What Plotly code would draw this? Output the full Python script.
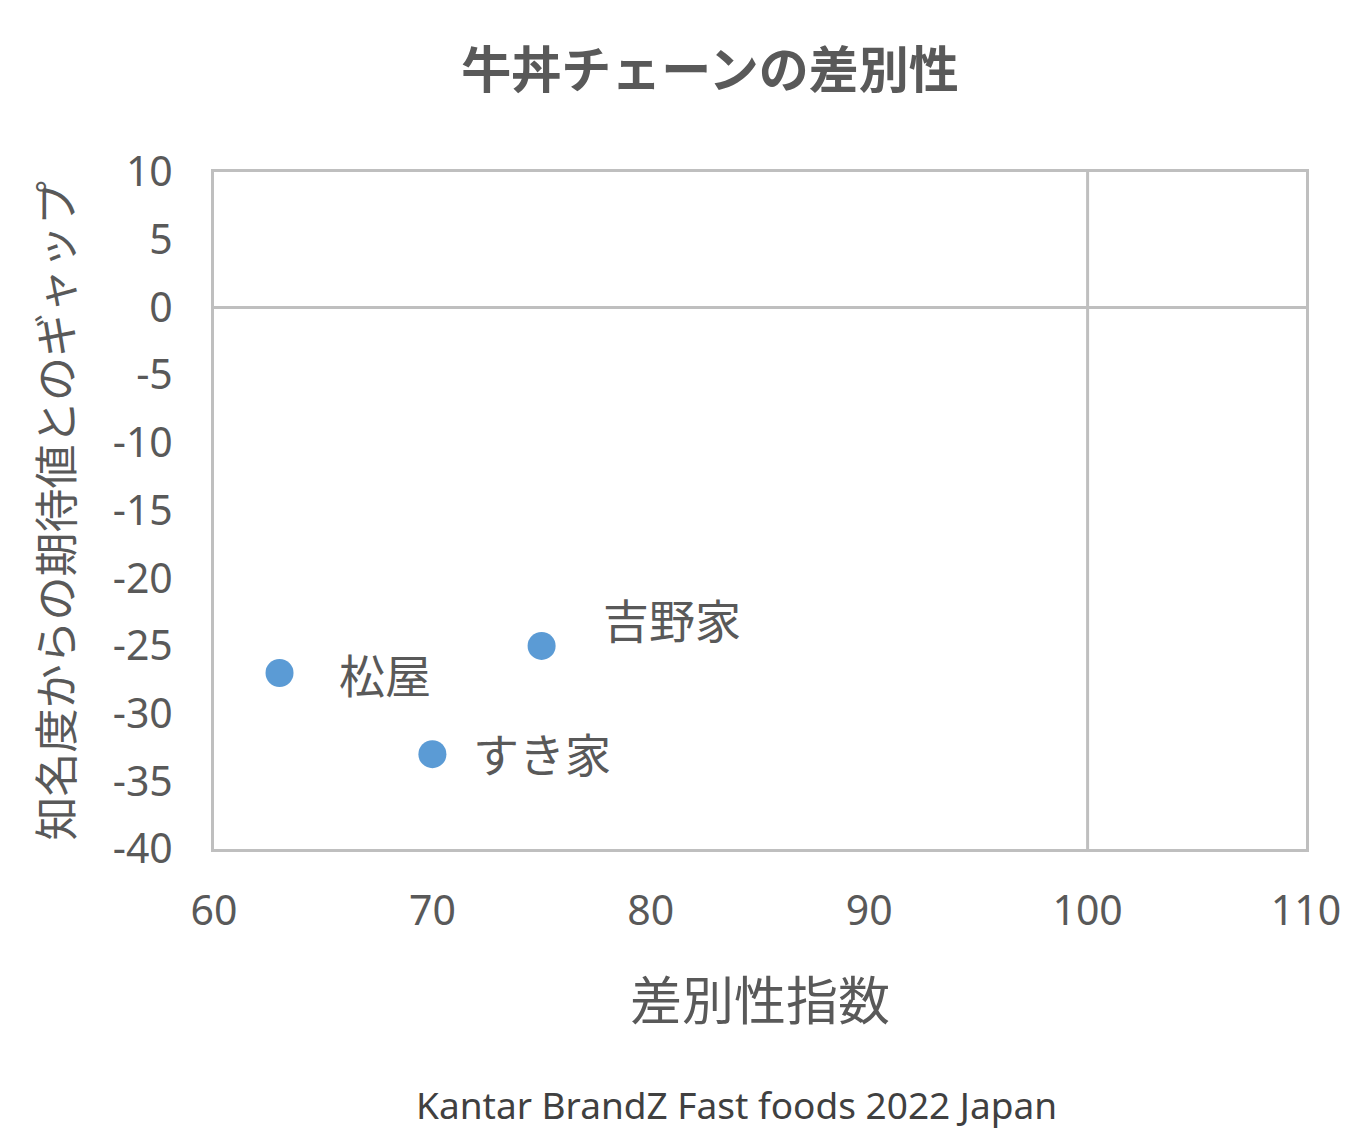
import plotly.graph_objects as go

brands = ["松屋", "吉野家", "すき家"]
diff_index = [63, 75, 70]
gap = [-27, -25, -33]
label_dx = [105, 130, 110]
label_dy = [0, 28, 2]

x_ticks = [60, 70, 80, 90, 100, 110]
y_ticks = [10, 5, 0, -5, -10, -15, -20, -25, -30, -35, -40]
y_ticktext = ["10", "5", "0", "-5", "-10", "-15", "-20", "-25", "-30", "-35", "-40"]
ref_x = 100
ref_y = 0

GRAY = "#595959"
LINE = "#BFBFBF"
BLUE = "#5B9BD5"
FONT = "Noto Sans, Noto Sans CJK JP"
CJK = "Noto Sans CJK JP"

fig = go.Figure()
fig.add_trace(go.Scatter(
    x=diff_index, y=gap, mode="markers",
    marker=dict(size=28, color=BLUE, line=dict(width=0)),
    showlegend=False, hoverinfo="skip"))

for b, xv, yv, dx, dy in zip(brands, diff_index, gap, label_dx, label_dy):
    fig.add_annotation(x=xv, y=yv, text=b, showarrow=False,
                       xshift=dx, yshift=dy, xanchor="center", yanchor="middle",
                       font=dict(family=CJK, size=46, color=GRAY))

fig.add_shape(type="line", xref="x", yref="paper", x0=ref_x, x1=ref_x, y0=0, y1=1,
              line=dict(color=LINE, width=3), layer="below")
fig.add_shape(type="line", xref="paper", yref="y", x0=0, x1=1, y0=ref_y, y1=ref_y,
              line=dict(color=LINE, width=3), layer="below")

L, T, PW, PH = 206, 164, 1092, 677
fig.update_layout(
    width=1372, height=1140,
    margin=dict(l=L, r=1372 - L - PW, t=T, b=1140 - T - PH),
    paper_bgcolor="white", plot_bgcolor="white",
    title=dict(text="<b>牛丼チェーンの差別性</b>", x=702/1372, xref="container", xanchor="center",
               y=1 - 62/1140, yref="container", yanchor="middle",
               font=dict(family=CJK, size=50, color=GRAY)),
    xaxis=dict(range=[60, 110], tickvals=x_ticks, showgrid=False, zeroline=False,
               showline=True, mirror=True, linecolor=LINE, linewidth=3,
               ticks="", ticklabelstandoff=24,
               tickfont=dict(family=FONT, size=41, color=GRAY)),
    yaxis=dict(range=[-40, 10], tickvals=y_ticks, ticktext=y_ticktext, showgrid=False, zeroline=False,
               showline=True, mirror=True, linecolor=LINE, linewidth=3,
               ticks="", ticklabelstandoff=30,
               tickfont=dict(family=FONT, size=41, color=GRAY)),
)

fig.add_annotation(text="差別性指数", xref="paper", yref="paper", x=0.5, y=-(997-849)/677,
                   showarrow=False, xanchor="center", yanchor="middle",
                   font=dict(family=CJK, size=52, color=GRAY))
fig.add_annotation(text="知名度からの期待値とのギャップ", xref="paper", yref="paper",
                   x=-(213-52)/1092, y=0.5, textangle=-90, showarrow=False,
                   xanchor="center", yanchor="middle",
                   font=dict(family=CJK, size=44, color=GRAY))
fig.add_annotation(text="Kantar BrandZ Fast foods 2022 Japan", xref="paper", yref="paper",
                   x=(735-213)/1092, y=-(1104-849)/677, showarrow=False,
                   xanchor="center", yanchor="middle",
                   font=dict(family="Noto Sans", size=37, color="#404040"))

fig.write_html("out.html")
